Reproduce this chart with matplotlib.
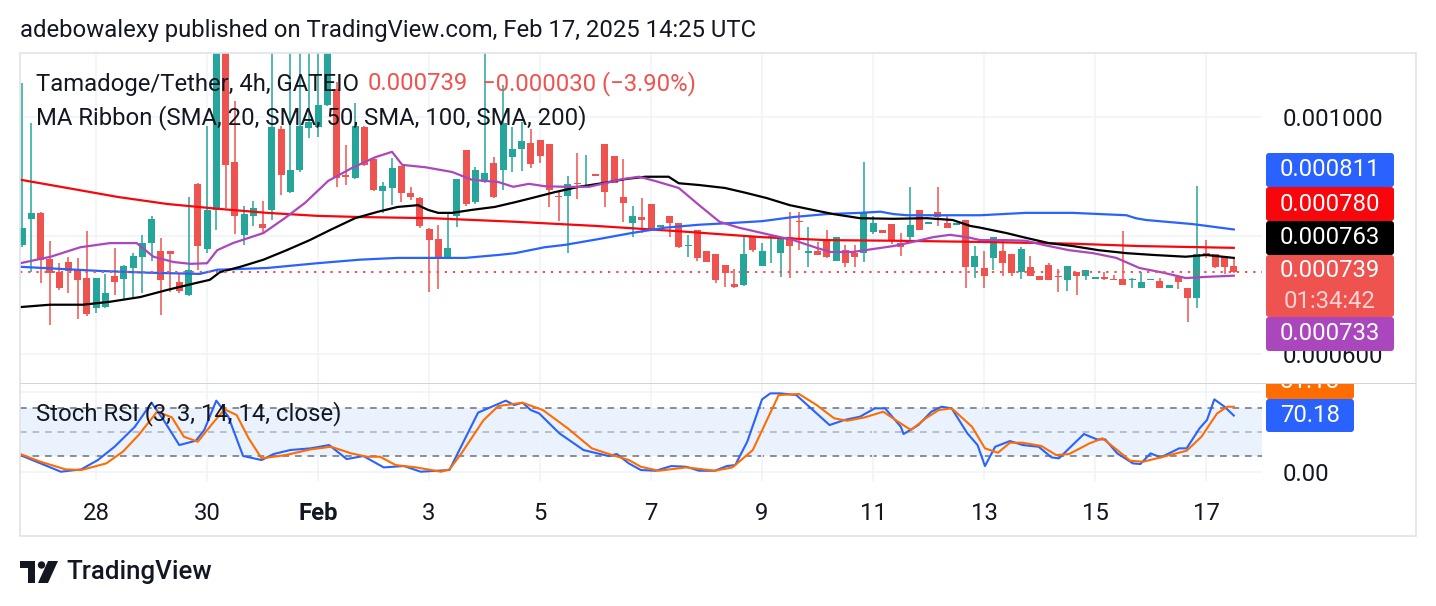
import matplotlib
matplotlib.use("Agg")
import matplotlib.pyplot as plt
from matplotlib.patches import FancyBboxPatch, Polygon, Circle, Rectangle
from matplotlib.transforms import IdentityTransform, Bbox
import numpy as np
import pandas as pd

plt.rcParams['font.family'] = ['Roboto', 'DejaVu Sans']

# ---------------- DATA (prices in 1e-6 USDT) ----------------
start_time = "2025-01-26 16:00"
opens = [785, 829, 839, 761, 739, 756, 743, 729, 678, 680, 732, 727, 746, 765, 788, 775, 775, 722, 700, 888,
         778, 844, 1150, 925, 802, 834, 820, 844, 981, 874, 911, 982, 984, 1021, 1048, 903, 898, 984, 930, 876,
         881, 918, 873, 864, 812, 795, 765, 834, 945, 857, 891, 923, 911, 933, 947, 957, 962, 955, 867, 868,
         889, 884, 904, 955, 935, 866, 822, 832, 854, 816, 834, 822, 783, 810, 775, 770, 751, 719, 717, 800,
         749, 798, 771, 798, 825, 772, 775, 791, 758, 776, 771, 771, 807, 810, 820, 788, 798, 844, 821, 840,
         822, 819, 827, 748, 746, 763, 775, 770, 739, 748, 732, 751, 732, 726, 739, 732, 728, 730, 728, 727,
         725, 712, 726, 724, 712, 731, 712, 695, 771, 770, 766, 749]
highs = [1058, 991, 840, 791, 754, 765, 763, 808, 729, 736, 780, 751, 771, 802, 834, 797, 775, 736, 866, 889,
         986, 1200, 1180, 1028, 851, 859, 859, 1180, 985, 1150, 1160, 1140, 1130, 1170, 1060, 954, 1024, 986, 932, 891,
         932, 918, 883, 866, 813, 819, 837, 896, 945, 916, 1150, 933, 1055, 984, 992, 981, 962, 955, 874, 901,
         940, 937, 904, 955, 935, 930, 851, 864, 854, 818, 834, 822, 802, 810, 775, 770, 751, 744, 802, 800,
         788, 802, 798, 840, 840, 815, 790, 810, 798, 785, 785, 925, 834, 810, 820, 805, 883, 844, 823, 883,
         834, 821, 827, 783, 775, 798, 793, 770, 781, 766, 732, 754, 744, 749, 739, 743, 730, 739, 734, 808,
         729, 739, 728, 729, 717, 731, 712, 884, 793, 770, 766, 761]
lows = [781, 739, 721, 650, 709, 704, 660, 665, 670, 678, 700, 694, 694, 704, 758, 667, 705, 704, 699, 743,
        771, 810, 847, 803, 785, 817, 805, 827, 869, 872, 908, 965, 967, 1019, 883, 886, 897, 918, 876, 839,
        852, 857, 861, 813, 705, 711, 763, 815, 851, 854, 889, 864, 878, 908, 910, 915, 923, 849, 825, 771,
        862, 884, 902, 849, 889, 824, 798, 805, 812, 816, 798, 780, 765, 758, 756, 721, 714, 712, 716, 773,
        749, 754, 731, 729, 776, 748, 768, 763, 758, 748, 748, 756, 803, 805, 786, 766, 788, 810, 821, 817,
        813, 819, 712, 729, 712, 743, 732, 732, 727, 732, 726, 726, 705, 707, 700, 726, 728, 726, 726, 717,
        712, 712, 726, 712, 712, 711, 655, 678, 763, 746, 736, 737]
closes = [813, 839, 760, 737, 712, 741, 726, 668, 729, 704, 722, 749, 766, 788, 829, 726, 770, 707, 743, 783,
          844, 1150, 920, 834, 837, 847, 813, 984, 903, 911, 986, 992, 1021, 1130, 898, 900, 986, 920, 878, 884,
          915, 873, 866, 817, 793, 761, 780, 896, 854, 911, 906, 866, 991, 947, 960, 921, 935, 878, 865, 888,
          887, 886, 902, 874, 889, 856, 834, 827, 812, 818, 822, 781, 785, 763, 756, 726, 737, 714, 770, 776,
          775, 800, 798, 783, 823, 774, 768, 765, 798, 754, 765, 840, 822, 805, 791, 781, 819, 810, 823, 832,
          813, 821, 748, 766, 732, 798, 754, 737, 778, 732, 726, 726, 730, 749, 732, 743, 730, 728, 726, 717,
          727, 722, 728, 712, 717, 722, 695, 770, 768, 748, 748, 739]

# moving averages: (bar position, value)
ma20_bar = [-0.2, 3.1, 6.3, 9.5, 12.4, 14.2, 16.4, 18.2, 20.0, 21.1, 22.8, 26.1, 28.4, 30.6, 33.1, 35.7, 38.2, 40.0,
            41.1, 43.6, 46.5, 48.6, 51.5, 53.1, 54.8, 56.5, 58.7, 61.3, 63.0, 64.9, 66.7, 68.4, 71.0, 73.2, 75.4,
            77.5, 80.0, 83.4, 85.9, 87.4, 89.8, 92.0, 94.2, 96.3, 98.5, 100.3, 102.2, 103.6, 106.4, 108.5, 110.4,
            113.2, 115.8, 118.3, 120.8, 123.4, 125.8, 128.0, 131.0]
ma20_val = [754, 765, 781, 788, 788, 765, 756, 753, 754, 776, 788, 805, 830, 856, 893, 915, 933, 942, 920, 916,
            908, 895, 891, 883, 888, 884, 883, 883, 889, 896, 900, 893, 881, 852, 824, 814, 805, 793, 780, 773,
            773, 778, 783, 790, 798, 802, 798, 793, 793, 792, 785, 776, 771, 763, 746, 738, 729, 731, 733]
ma50_bar = [-0.2, 3.0, 6.6, 9.5, 12.8, 15.7, 18.9, 20.3, 21.4, 23.6, 26.1, 28.6, 31.1, 33.3, 36.0, 38.5, 40.6,
            42.8, 43.9, 45.0, 46.5, 48.6, 51.1, 53.3, 55.1, 57.6, 60.2, 62.7, 65.2, 67.4, 69.9, 71.0, 73.2, 76.0,
            78.2, 80.5, 83.0, 85.5, 87.7, 90.6, 94.2, 97.8, 100.6, 102.5, 103.6, 106.4, 108.5, 111.0, 113.6, 116.4,
            119.4, 122.3, 125.8, 128.0, 131.0]
ma50_val = [680, 684, 684, 689, 697, 709, 721, 726, 739, 748, 760, 776, 793, 810, 830, 841, 849, 852, 844, 839,
            839, 844, 849, 857, 864, 874, 883, 889, 896, 900, 900, 889, 886, 881, 873, 864, 852, 844, 837, 830,
            829, 830, 827, 817, 814, 805, 797, 788, 783, 776, 771, 768, 765, 768, 763]
ma100_bar = [-0.2, 8.4, 13.8, 19.2, 21.1, 26.5, 31.9, 36.5, 40.6, 47.9, 51.5, 53.3, 56.5, 58.7, 62.4, 65.9, 69.5,
             73.2, 76.8, 80.0, 83.4, 87.0, 90.6, 92.8, 94.2, 95.7, 99.6, 103.6, 108.5, 113.6, 119.4, 120.4, 121.5,
             126.6, 131.0]
ma100_val = [748, 741, 738, 736, 743, 746, 754, 760, 763, 763, 768, 771, 781, 785, 795, 805, 814, 819, 822, 825,
             832, 837, 839, 841, 837, 835, 835, 835, 839, 839, 835, 830, 827, 820, 811]
ma200_bar = [-0.2, 4.9, 10.3, 15.7, 21.1, 26.5, 31.9, 36.5, 44.3, 53.3, 62.0, 71.0, 80.0, 87.0, 94.2, 103.6,
             113.6, 120.8, 131.0]
ma200_val = [895, 881, 866, 854, 846, 839, 834, 832, 830, 824, 817, 808, 798, 793, 792, 790, 787, 783, 780]

# Stoch RSI (K blue, D orange)
k_bar = [-0.2, 2.0, 4.2, 6.4, 8.2, 10.0, 12.2, 14.0, 15.3, 17.0, 18.8, 19.7, 21.0, 22.3, 23.9, 25.9, 27.2, 29.0,
         31.2, 33.2, 35.1, 36.9, 39.1, 41.3, 43.1, 46.2, 49.3, 52.3, 53.2, 54.1, 55.0, 55.9, 58.1, 60.7, 63.4, 64.3,
         65.6, 66.9, 68.5, 70.2, 71.8, 73.2, 74.9, 76.2, 77.1, 78.4, 80.0, 80.9, 82.0, 83.7, 85.3, 87.3, 88.9, 90.6,
         92.2, 93.3, 95.0, 95.3, 96.9, 98.3, 99.4, 100.5, 102.2, 103.3, 104.1, 105.2, 106.8, 108.2, 109.9, 111.3,
         112.1, 113.2, 114.8, 116.2, 117.1, 118.4, 120.1, 120.9, 122.0, 123.1, 125.1, 125.9, 127.3, 128.1, 128.9,
         130.0, 131.0]
k_val = [20.8, 10.4, 0.0, 2.9, 14.6, 31.2, 56.2, 86.2, 64.6, 33.3, 38.8, 52.1, 88.8, 68.8, 19.6, 14.6, 22.1, 27.1,
         29.2, 33.3, 15.8, 19.6, 5.4, 7.1, 0.0, 2.1, 73.8, 88.8, 83.3, 86.2, 77.1, 72.9, 47.9, 27.1, 19.6, 22.1,
         10.4, 2.1, 1.2, 7.1, 6.2, 1.2, 1.2, 7.1, 8.3, 37.5, 90.4, 97.9, 97.9, 95.8, 79.2, 58.3, 64.6, 68.8,
         79.2, 79.2, 56.2, 47.1, 58.3, 75.0, 81.2, 79.2, 47.9, 33.3, 7.1, 31.2, 38.3, 33.3, 31.2, 17.9,
         16.7, 29.2, 47.1, 40.4, 40.4, 22.9, 10.4, 9.6, 22.9, 17.9, 29.2, 29.2, 54.2, 64.6, 90.4, 81.2, 70.18]
d_bar = [-0.2, 2.0, 4.7, 6.4, 9.1, 10.9, 12.6, 14.6, 16.2, 17.5, 19.0, 20.6, 21.9, 23.2, 24.5, 25.9, 28.5, 31.2,
         33.4, 35.6, 37.3, 38.7, 40.4, 42.6, 45.3, 46.2, 47.5, 49.9, 51.5, 54.1, 56.3, 59.0, 61.6, 63.8, 65.6, 66.9,
         68.8, 71.8, 74.9, 76.8, 79.0, 80.7, 81.8, 84.0, 85.9, 87.8, 89.2, 91.1, 93.1, 94.7, 96.1, 97.7, 99.1,
         100.5, 102.7, 104.1, 105.5, 106.8, 108.2, 110.2, 111.8, 113.2, 115.4, 116.8, 118.4, 119.8, 121.2, 123.1,
         125.9, 127.5, 129.2, 130.3, 131.0]
d_val = [22.1, 12.5, 2.9, 2.1, 10.4, 25.0, 45.8, 75.0, 67.9, 43.7, 37.5, 60.4, 77.9, 70.8, 41.7, 16.7, 20.8, 27.9,
         31.2, 22.9, 18.7, 18.7, 8.3, 5.4, 0.0, 2.9, 22.9, 64.6, 82.1, 86.2, 77.1, 54.2, 29.2, 20.8, 14.6, 6.2,
         1.2, 5.4, 1.2, 5.4, 27.1, 68.8, 95.8, 97.1, 83.3, 66.7, 63.7, 67.9, 75.0, 62.5, 52.1, 66.7, 77.1,
         79.2, 56.2, 29.2, 23.7, 36.2, 36.2, 32.1, 20.8, 22.1, 35.4, 41.7, 27.1, 13.7, 12.5, 17.9,
         26.2, 43.7, 72.9, 81.2, 81.18]

tick_dates = ["2025-01-28", "2025-01-30", "2025-02-01", "2025-02-03", "2025-02-05", "2025-02-07",
              "2025-02-09", "2025-02-11", "2025-02-13", "2025-02-15", "2025-02-17"]
tick_labels = ["28", "30", "Feb", "3", "5", "7", "9", "11", "13", "15", "17"]
price_ticks = [600, 800, 1000]
price_tick_labels = ["0.000600", "", "0.001000"]   # 0.000800 is hidden behind the value tags
change_abs = -30
change_pct = -3.90
countdown = "01:34:42"

# ---------------- STYLE ----------------
GREEN, RED = '#26a69a', '#ef5350'
C20, C50, C100, C200 = '#ab47bc', '#000000', '#2962ff', '#f7060c'
KCOL, DCOL = '#2962ff', '#ff6d00'
TXT = '#131722'
GRID = '#f0f3fa'
FS = 17.2

W, H = 1436, 606
fig = plt.figure(figsize=(W / 100, H / 100), dpi=100)
fig.patch.set_facecolor('white')


def fr(x0, y0, x1, y1):
    return [x0 / W, 1 - y1 / H, (x1 - x0) / W, (y1 - y0) / H]


def fx(px):
    return px / W


def fy(py):
    return 1 - py / H


ax = fig.add_axes(fr(20, 53, 1262, 383))
ax2 = fig.add_axes(fr(20, 384, 1262, 481), sharex=ax)

times = pd.date_range(start_time, periods=len(opens), freq='4h')
bar_hours = 4.0
tick_pos = [(pd.Timestamp(d) - times[0]) / pd.Timedelta(hours=bar_hours) for d in tick_dates]

# candles
o = np.array(opens, float)
c = np.array(closes, float)
h = np.array(highs, float)
l = np.array(lows, float)
idx = np.arange(len(o))
cols = np.where(c >= o, GREEN, RED)
ax.vlines(idx, l, h, colors=cols, lw=1.1, zorder=3)
body_bot = np.minimum(o, c)
body_h = np.maximum(np.abs(c - o), 2.2)
ax.bar(idx, body_h, bottom=body_bot, width=0.76, color=cols, linewidth=0, zorder=4)

# MA ribbon
ax.plot(ma200_bar, ma200_val, color=C200, lw=1.6, zorder=5)
ax.plot(ma100_bar, ma100_val, color=C100, lw=1.6, zorder=5)
ax.plot(ma50_bar, ma50_val, color=C50, lw=1.6, zorder=5)
ax.plot(ma20_bar, ma20_val, color=C20, lw=1.6, zorder=5)

last = closes[-1]
ax.axhline(last, color=RED, lw=1.4, ls=(0, (1.2, 3)), zorder=6)

ax.set_xlim(-0.22, 134.05)
ax.set_ylim(551.9, 1108.8)
ax.set_xticks(tick_pos)
ax.tick_params(axis='x', which='both', length=0, labelbottom=False)
ax.yaxis.tick_right()
ax.set_yticks(price_ticks)
ax.set_yticklabels(price_tick_labels)
ax.tick_params(axis='y', length=0, pad=15, labelsize=FS, labelcolor=TXT)
ax.grid(True, color=GRID, lw=1.2, zorder=0)
for s in ax.spines.values():
    s.set_visible(False)

# Stoch RSI pane
ax2.axhspan(20, 80, color='#e9f2fd', lw=0, zorder=0)
ax2.axhline(80, color='#787b86', lw=1.2, ls=(0, (4, 3.5)), zorder=1)
ax2.axhline(20, color='#787b86', lw=1.2, ls=(0, (4, 3.5)), zorder=1)
ax2.axhline(50, color='#b2b5be', lw=1.2, ls=(0, (4, 3.5)), zorder=1)
ax2.axhline(100, color=GRID, lw=1.2, zorder=0)
ax2.plot(k_bar, k_val, color=KCOL, lw=1.5, zorder=3)
ax2.plot(d_bar, d_val, color=DCOL, lw=1.5, zorder=4)
ax2.set_ylim(-11.6, 109.6)
ax2.set_xticks(tick_pos)
ax2.set_xticklabels(tick_labels)
ax2.tick_params(axis='x', length=0, pad=15, labelsize=FS, labelcolor=TXT)
for t in ax2.get_xticklabels():
    if t.get_text() == "Feb":
        t.set_fontweight('bold')
ax2.yaxis.tick_right()
ax2.set_yticks([0])
ax2.set_yticklabels(["0.00"])
ax2.tick_params(axis='y', length=0, pad=15, labelsize=FS, labelcolor=TXT)
ax2.grid(True, color=GRID, lw=1.2, zorder=0)
for s in ax2.spines.values():
    s.set_visible(False)

# frame and pane separator
ID = IdentityTransform()
fig.add_artist(Rectangle((20, H - 536), 1396, 483, transform=ID, fill=False, edgecolor='#e0e3eb', lw=1.2))
fig.add_artist(Rectangle((20, H - 384), 1396, 1.5, transform=ID, facecolor='#d1d4dc', edgecolor='none'))


def tag(y0, y1, color, lines, x0=1266, x1=1394, clip=None, size=FS):
    p = FancyBboxPatch((x0, H - y1), x1 - x0, y1 - y0,
                       boxstyle="round,pad=0,rounding_size=3", transform=ID,
                       facecolor=color, edgecolor='none', zorder=10)
    if clip is not None:
        p.set_clip_box(clip)
        p.set_clip_on(True)
    fig.add_artist(p)
    n = len(lines)
    for i, (txt, tc) in enumerate(lines):
        yc = y0 + (y1 - y0) * (i + 0.5) / n
        t = fig.text(fx((x0 + x1) / 2), fy(yc), txt, color=tc, fontsize=size,
                     ha='center', va='center', zorder=11)
        if clip is not None:
            t.set_clip_box(clip)
            t.set_clip_on(True)


tag(153, 187, C100, [(f"{ma100_val[-1] / 1e6:.6f}", 'white')])
tag(187, 221, C200, [(f"{ma200_val[-1] / 1e6:.6f}", 'white')])
tag(221, 255, C50, [(f"{ma50_val[-1] / 1e6:.6f}", 'white')])
tag(255, 317, RED, [(f"{last / 1e6:.6f}", 'white'), (countdown, '#fdd3d2')])
tag(317, 351, C20, [(f"{ma20_val[-1] / 1e6:.6f}", 'white')])

stoch_clip = Bbox([[1262, H - 481], [1420, H - 384]])
tag(365, 399, DCOL, [(f"{d_val[-1]:.2f}", 'white')], x1=1354, clip=stoch_clip)
tag(399, 432, KCOL, [(f"{k_val[-1]:.2f}", 'white')], x1=1354)

# texts
fig.text(fx(20), fy(31), "adebowalexy published on TradingView.com, Feb 17, 2025 14:25 UTC",
         fontsize=FS, color=TXT, va='center', ha='left')
fig.text(fx(36), fy(84), "Tamadoge/Tether, 4h, GATEIO", fontsize=FS, color=TXT, va='center', ha='left', zorder=12)
fig.text(fx(368), fy(84), f"{last / 1e6:.6f}", fontsize=FS, color=RED, va='center', ha='left', zorder=12)
fig.text(fx(482), fy(84), f"\u2212{abs(change_abs) / 1e6:.6f} (\u2212{abs(change_pct):.2f}%)",
         fontsize=FS, color=RED, va='center', ha='left', zorder=12)
fig.text(fx(36), fy(118), "MA Ribbon (SMA, 20, SMA, 50, SMA, 100, SMA, 200)", fontsize=FS, color=TXT,
         va='center', ha='left', zorder=12)
fig.text(fx(36), fy(414), "Stoch RSI (3, 3, 14, 14, close)", fontsize=FS, color=TXT, va='center', ha='left',
         zorder=12)

# TradingView logo
fig.add_artist(Polygon([(20, H - 561), (35, H - 561), (35, H - 583), (28, H - 583), (28, H - 568), (20, H - 568)],
                       closed=True, transform=ID, facecolor=TXT, edgecolor='none'))
fig.add_artist(Circle((41.5, H - 565), 3.7, transform=ID, facecolor=TXT, edgecolor='none'))
fig.add_artist(Polygon([(48, H - 561), (58, H - 561), (48, H - 583), (38, H - 583)],
                       closed=True, transform=ID, facecolor=TXT, edgecolor='none'))
fig.text(fx(66), fy(572), "TradingView", fontsize=18.6, color=TXT, va='center', ha='left', fontweight='medium')

fig.savefig("out.png", dpi=100, facecolor='white')
